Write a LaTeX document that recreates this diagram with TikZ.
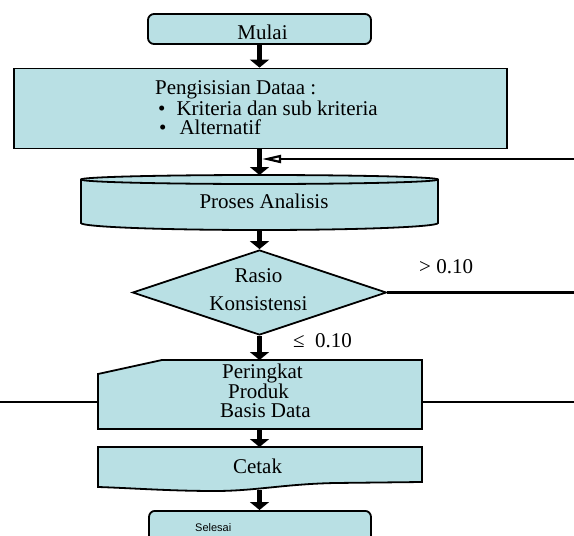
\documentclass[tikz,border=0pt]{standalone}
\usepackage{fontspec}
\setmainfont{Liberation Serif}
\setsansfont{Liberation Sans}
\usetikzlibrary{positioning, arrows.meta, shapes.geometric}
\definecolor{flowcyan}{HTML}{B9E0E4}

\begin{document}
\begin{tikzpicture}[
    x=1pt, y=-1pt,
    every node/.style={font=\fontsize{21}{19}\selectfont, inner sep=0pt},
    shapebox/.style={draw, line width=1.8pt, fill=flowcyan},
    termbox/.style={shapebox, rounded corners=6pt},
    flowarrow/.style={line width=4.5pt, -{Triangle[width=19pt,length=8pt]}},
    backarrow/.style={line width=2.2pt, -{Triangle[open,width=8pt,length=19pt]}},
    thinline/.style={line width=1.4pt},
  ]
  \clip (0,0) rectangle (574,536);

  % start and data input
  \node[termbox, minimum width=223pt, minimum height=30pt] (mulai) at (259.5,29) {};
  \node[anchor=base] (mulaitxt) at (262.5,39) {Mulai};
  \node[shapebox, minimum width=493pt, minimum height=80pt] (data) at (260.5,108.5) {};
  \node[anchor=base west, align=left] (datatxt) at (155,134)
    {Pengisisian Dataa :\\\hspace*{3pt}\textbullet\hspace{11pt}Kriteria dan sub kriteria\\\hspace*{4pt}\textbullet\hspace{13pt}Alternatif};

  % analysis drum
  \draw[shapebox] (81,179.5) -- (81,223)
    arc[start angle=180, end angle=360, x radius=178.5pt, y radius=7pt]
    -- (438,179.5)
    arc[start angle=0, end angle=180, x radius=178.5pt, y radius=4.5pt] -- cycle;
  \draw[line width=1.8pt] (81,179.5)
    arc[start angle=180, end angle=360, x radius=178.5pt, y radius=4.5pt];
  \coordinate (prosestop) at (259.5,175);
  \coordinate (prosesbot) at (259.5,230);
  \node[anchor=base] (prosestxt) at (264,208) {Proses Analisis};

  % decision
  \node[shapebox, diamond, minimum width=254pt, minimum height=85pt] (rasio) at (259.5,292.5) {};
  \node[anchor=base] (rasiotxt) at (258.5,282) {Rasio};
  \node[anchor=base] (konsisttxt) at (258.5,310) {Konsistensi};
  \node[anchor=base west] (gtlabel) at (419,273) {> 0.10};
  \node[anchor=base west] (lelabel) at (293,347) {≤\ \ 0.10};

  % ranking
  \draw[shapebox] (98,374) -- (162,360) -- (422,360) -- (422,429) -- (98,429) -- cycle;
  \coordinate (peringtop) at (259.5,360);
  \coordinate (peringbot) at (259.5,429);
  \coordinate (peringleft) at (98,402);
  \coordinate (peringright) at (422,402);
  \node[anchor=base west, align=left, font=\fontsize{21}{18.5}\selectfont] (peringtxt) at (220,417)
    {\hspace*{2pt}Peringkat\\\hspace*{8pt}Produk\\Basis Data};

  % print document
  \draw[shapebox] (98,447) -- (422,447) -- (422,482) -- (335,483)
    .. controls (285,484) and (255,491) .. (215,491)
    .. controls (170,491) and (130,488) .. (98,487) -- cycle;
  \coordinate (cetaktop) at (259.5,447);
  \coordinate (cetakbot) at (259.5,490);
  \node[anchor=base] (cetaktxt) at (257.5,473) {Cetak};

  % end
  \node[termbox, minimum width=222pt, minimum height=60pt, anchor=north] (selesai) at (260,510) {};
  \node[anchor=base west, font=\sffamily\fontsize{11}{13}\selectfont] (selesaitxt) at (195,531) {Selesai};

  % connectors
  \draw[flowarrow] (mulai.south) -- (mulai.south |- data.north);
  \draw[flowarrow] (mulai.south |- data.south) -- (prosestop);
  \draw[flowarrow] (prosesbot) -- (rasio.north);
  \draw[flowarrow] (rasio.south) -- (peringtop);
  \draw[flowarrow] (peringbot) -- (cetaktop);
  \draw[flowarrow] (cetakbot) -- (cetakbot |- selesai.north);

  \coordinate (loopend) at (574,159);
  \coordinate (loopin) at (262,159);
  \draw[backarrow] (loopend) -- (loopin);
  \coordinate (rightedge) at (574,292.5);
  \draw[line width=2.2pt] (rasio.east) -- (rightedge);
  \coordinate (leftedge) at (0,402);
  \coordinate (farright) at (574,402);
  \draw[thinline] (leftedge) -- (peringleft);
  \draw[thinline] (peringright) -- (farright);
\end{tikzpicture}
\end{document}
